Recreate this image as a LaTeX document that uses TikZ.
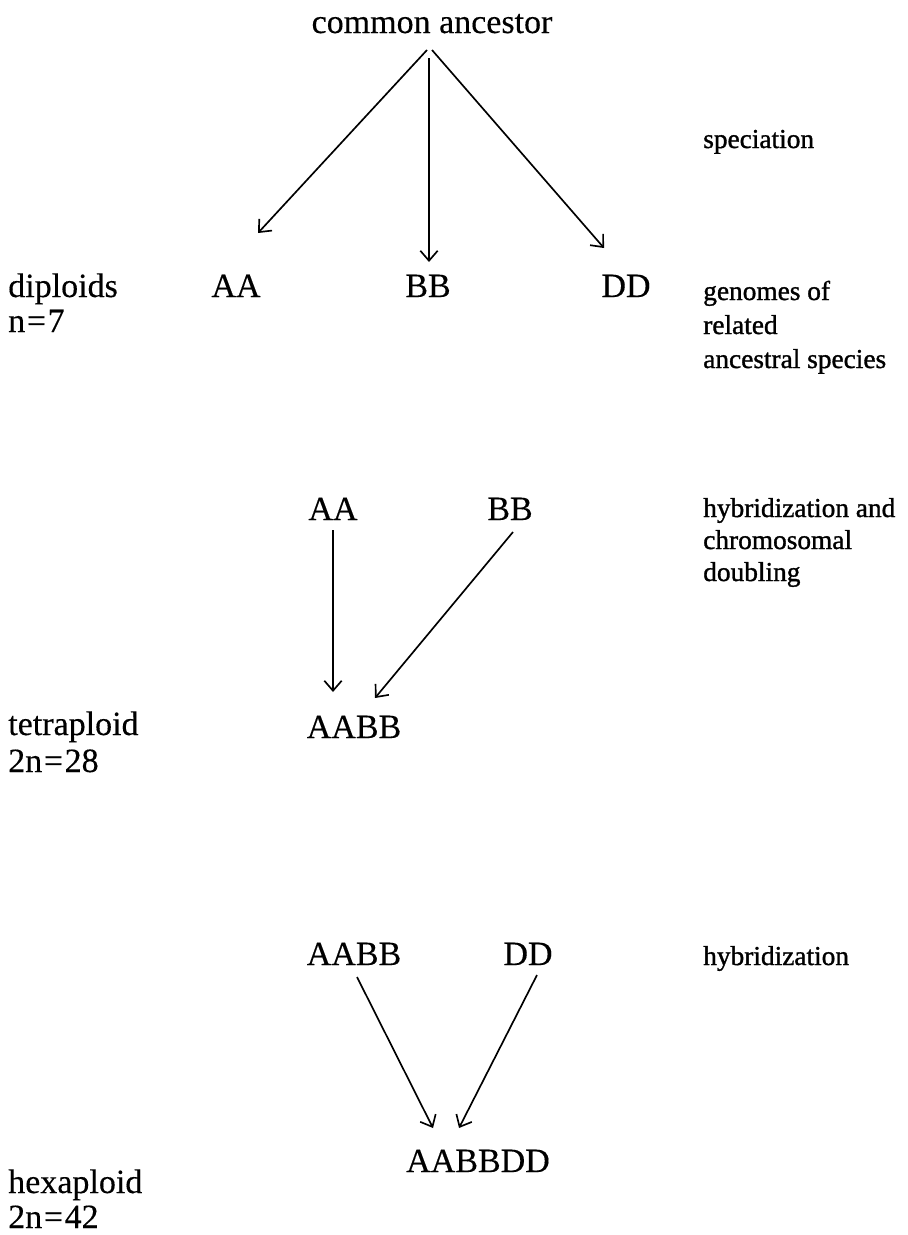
\documentclass[tikz,border=0pt]{standalone}
\usepackage{fontspec}
\setmainfont{Liberation Serif}
\newfontfamily\notefont[FakeBold=1.2]{Liberation Serif}
\newfontfamily\mainfont[FakeBold=0.3]{Liberation Serif}
\usetikzlibrary{arrows.meta}
\newcommand{\eqk}{\kern1.2pt=\kern1.2pt}
\begin{document}
\begin{tikzpicture}[x=0.75pt,y=-0.75pt,
  big/.style={font=\mainfont\fontsize{25.5}{30}\selectfont, inner sep=0pt, anchor=base},
  side/.style={font=\mainfont\fontsize{25.5}{30}\selectfont, inner sep=0pt, anchor=base west},
  note/.style={font=\notefont\fontsize{20.5}{25}\selectfont, inner sep=0pt, anchor=base west},
  arr/.style={-{Straight Barb[length=7.5pt,width=13pt]}, line width=1.25pt}]
\useasboundingbox (0,0) rectangle (907,1235);
% top: speciation
\node[big] (ca) at (432,33) {common ancestor};
\coordinate (apexL) at (427,50);
\coordinate (apexM) at (429,58);
\coordinate (apexR) at (432,50);
\node[big] (AA1) at (236,297) {AA};
\node[big] (BB1) at (428,297) {BB};
\node[big] (DD1) at (626,297) {DD};
\coordinate (tAA1) at (258,233);
\coordinate (tBB1) at (429,262);
\coordinate (tDD1) at (604,248);
\draw[arr] (apexL) -- (tAA1);
\draw[arr] (apexM) -- (tBB1);
\draw[arr] (apexR) -- (tDD1);
\node[note] (spec) at (703,148) {speciation};
\node[side] (dip) at (8,297) {diploids};
\node[side] (dipn) at (8,332) {n\eqk 7};
\node[note] (gen1) at (703,300) {genomes of};
\node[note] (gen2) at (703,334) {related};
\node[note] (gen3) at (703,368) {ancestral species};
% tetraploid
\node[big] (AA2) at (333,520) {AA};
\node[big] (BB2) at (510,520) {BB};
\node[big] (AABB2) at (354,738) {AABB};
\coordinate (sAA2) at (333,530);
\coordinate (tAA2) at (333,692);
\coordinate (sBB2) at (513,532);
\coordinate (tBB2) at (375,698);
\draw[arr] (sAA2) -- (tAA2);
\draw[arr] (sBB2) -- (tBB2);
\node[note] (hyb1) at (703,517) {hybridization and};
\node[note] (hyb2) at (703,549) {chromosomal};
\node[note] (hyb3) at (703,581) {doubling};
\node[side] (tet) at (8,735) {tetraploid};
\node[side] (tetn) at (8,772) {2n\eqk 28};
% hexaploid
\node[big] (AABB3) at (354,965) {AABB};
\node[big] (DD3) at (528,965) {DD};
\node[big] (AABBDD) at (478,1172) {AABBDD};
\coordinate (sAABB3) at (357,977);
\coordinate (tAABB3) at (433,1128);
\coordinate (sDD3) at (537,975);
\coordinate (tDD3) at (459,1128);
\draw[arr] (sAABB3) -- (tAABB3);
\draw[arr] (sDD3) -- (tDD3);
\node[note] (hyb) at (703,965) {hybridization};
\node[side] (hex) at (8,1193) {hexaploid};
\node[side] (hexn) at (8,1228) {2n\eqk 42};
\end{tikzpicture}
\end{document}
